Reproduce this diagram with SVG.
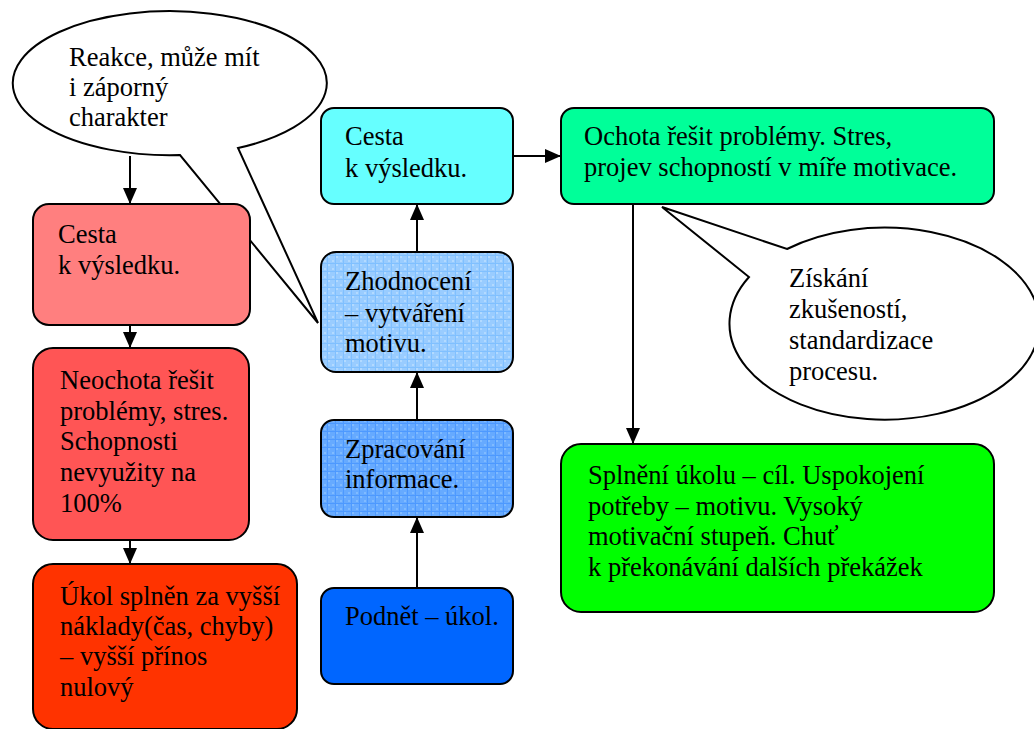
<svg xmlns="http://www.w3.org/2000/svg" width="1034" height="729" viewBox="0 0 1034 729">
<style>
  .box{stroke:#000;stroke-width:2}
  .call{fill:#fff;stroke:#000;stroke-width:2;stroke-linejoin:miter}
  text{font-family:"Liberation Serif","Times New Roman","DejaVu Serif",serif;font-size:26.5px;fill:#000}
  .con{stroke:#000;stroke-width:2;fill:none}
</style>
<defs>
  <marker id="ah" viewBox="0 0 16 14" refX="16" refY="7" markerWidth="16" markerHeight="14" markerUnits="userSpaceOnUse" orient="auto">
    <path d="M0,0 L16,7 L0,14 Z" fill="#000"/>
  </marker>
  <pattern id="gridA" width="8" height="8" patternUnits="userSpaceOnUse">
    <rect width="8" height="8" fill="#99CCFF"/>
    <rect x="0" y="0" width="2" height="2" fill="#B3DAFF"/>
    <rect x="4" y="4" width="2" height="2" fill="#B3DAFF"/>
    <rect x="0" y="7" width="8" height="1" fill="#80C0FF"/>
    <rect x="7" y="0" width="1" height="8" fill="#80C0FF"/>
  </pattern>
  <pattern id="gridB" width="8" height="8" patternUnits="userSpaceOnUse">
    <rect width="8" height="8" fill="#66AAFF"/>
    <rect x="0" y="0" width="2" height="2" fill="#80BBFF"/>
    <rect x="4" y="4" width="2" height="2" fill="#80BBFF"/>
    <rect x="0" y="7" width="8" height="1" fill="#4D99FF"/>
    <rect x="7" y="0" width="1" height="8" fill="#4D99FF"/>
  </pattern>
</defs>
<rect width="1034" height="729" fill="#fff"/>

<g id="callout1">
  <path class="call" d="M180,155 A157,72 0 1 1 238,148 L318,323 Z"/>
  <text x="69" y="66">Reakce, může mít</text>
  <text x="69" y="96">i záporný</text>
  <text x="69" y="126">charakter</text>
</g>

<g id="connectors">
  <line class="con" x1="130" y1="156" x2="130" y2="204" marker-end="url(#ah)"/>
  <line class="con" x1="130" y1="325" x2="130" y2="348" marker-end="url(#ah)"/>
  <line class="con" x1="130" y1="540" x2="130" y2="564" marker-end="url(#ah)"/>
  <line class="con" x1="417" y1="588" x2="417" y2="517" marker-end="url(#ah)"/>
  <line class="con" x1="417" y1="420" x2="417" y2="372" marker-end="url(#ah)"/>
  <line class="con" x1="417" y1="252" x2="417" y2="204" marker-end="url(#ah)"/>
  <line class="con" x1="513" y1="156" x2="561" y2="156" marker-end="url(#ah)"/>
  <line class="con" x1="633" y1="204" x2="633" y2="444" marker-end="url(#ah)"/>
</g>

<g id="cesta-left">
  <rect class="box" x="33" y="204" width="217" height="121" rx="16" fill="#FF7F7F"/>
  <text x="58" y="243">Cesta</text>
  <text x="58" y="274">k výsledku.</text>
</g>

<g id="neochota">
  <rect class="box" x="33" y="348" width="216" height="192" rx="20" fill="#FF5555"/>
  <text x="60" y="389">Neochota řešit</text>
  <text x="60" y="420">problémy, stres.</text>
  <text x="60" y="450">Schopnosti</text>
  <text x="60" y="481">nevyužity na</text>
  <text x="60" y="512">100%</text>
</g>

<g id="ukol">
  <rect class="box" x="33" y="564" width="264" height="165" rx="20" fill="#FF3300"/>
  <text x="60" y="605">Úkol splněn za vyšší</text>
  <text x="60" y="635">náklady(čas, chyby)</text>
  <text x="60" y="665">– vyšší přínos</text>
  <text x="60" y="696">nulový</text>
</g>

<g id="cesta-mid">
  <rect class="box" x="321" y="108" width="192" height="96" rx="13" fill="#66FFFF"/>
  <text x="345" y="145">Cesta</text>
  <text x="345" y="177">k výsledku.</text>
</g>

<g id="zhodnoceni">
  <rect class="box" x="321" y="252" width="192" height="120" rx="15" fill="url(#gridA)"/>
  <text x="345" y="290">Zhodnocení</text>
  <text x="345" y="322">– vytváření</text>
  <text x="345" y="352">motivu.</text>
</g>

<g id="zpracovani">
  <rect class="box" x="321" y="420" width="192" height="97" rx="13" fill="url(#gridB)"/>
  <text x="345" y="458">Zpracování</text>
  <text x="345" y="488">informace.</text>
</g>

<g id="podnet">
  <rect class="box" x="321" y="588" width="192" height="96" rx="13" fill="#0066FF"/>
  <text x="345" y="625">Podnět – úkol.</text>
</g>

<g id="ochota">
  <rect class="box" x="561" y="108" width="433" height="96" rx="13" fill="#00FF99"/>
  <text x="584" y="145">Ochota řešit problémy. Stres,</text>
  <text x="584" y="176">projev schopností v míře motivace.</text>
</g>

<g id="callout2">
  <path class="call" d="M787,249 A155,96 0 1 1 749,277 L662,207 Z"/>
  <text x="789" y="287">Získání</text>
  <text x="789" y="318">zkušeností,</text>
  <text x="789" y="349">standardizace</text>
  <text x="789" y="380">procesu.</text>
</g>

<g id="splneni">
  <rect class="box" x="561" y="444" width="433" height="168" rx="20" fill="#00FF00"/>
  <text x="588" y="484">Splnění úkolu – cíl. Uspokojení</text>
  <text x="588" y="515">potřeby – motivu. Vysoký</text>
  <text x="588" y="545">motivační stupeň. Chuť</text>
  <text x="588" y="576">k překonávání dalších překážek</text>
</g>
</svg>
